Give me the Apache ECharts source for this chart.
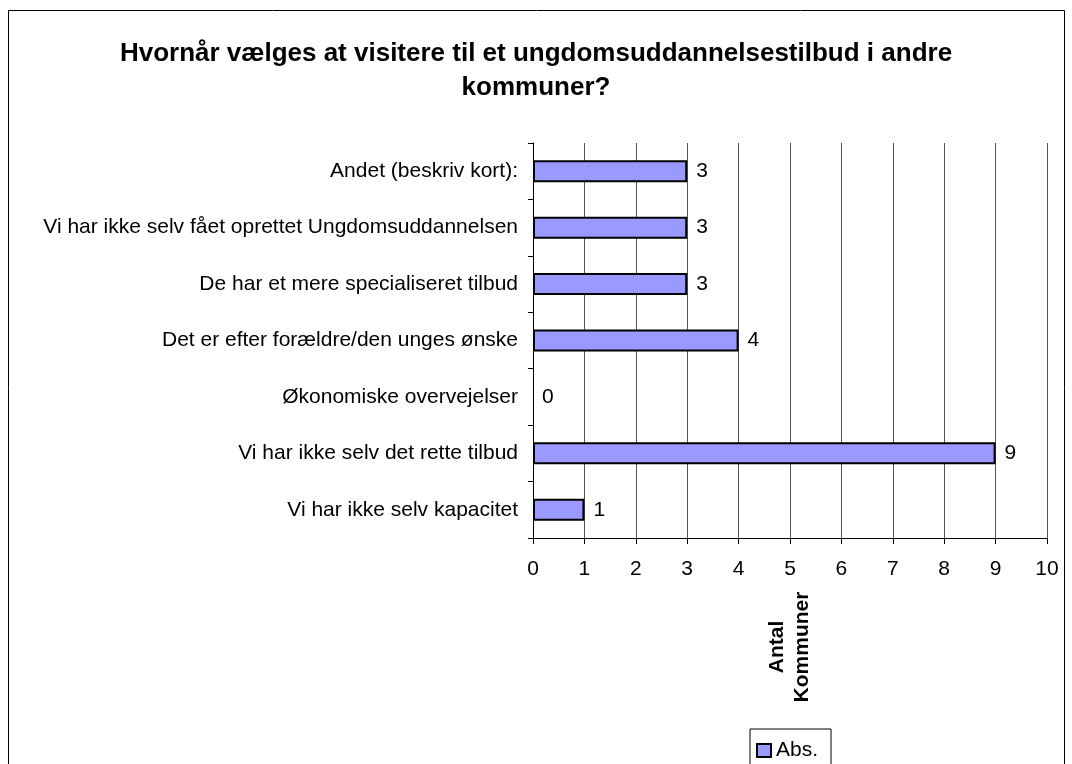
<!DOCTYPE html>
<html>
<head>
<meta charset="utf-8">
<script src="https://cdn.jsdelivr.net/npm/echarts@6/dist/echarts.min.js"></script>
<style>
  html, body { margin: 0; padding: 0; background: #fff; }
  #chart { width: 1072px; height: 764px; }
</style>
</head>
<body>
<div id="chart"></div>
<script>
// data
const categories = [
	'Andet (beskriv kort):',
	'Vi har ikke selv fået oprettet Ungdomsuddannelsen',
	'De har et mere specialiseret tilbud',
	'Det er efter forældre/den unges ønske',
	'Økonomiske overvejelser',
	'Vi har ikke selv det rette tilbud',
	'Vi har ikke selv kapacitet'
];
const absValues = [3, 3, 3, 4, 0, 9, 1];
const seriesName = 'Abs.';
const titleText = 'Hvornår vælges at visitere til et ungdomsuddannelsestilbud i andre\nkommuner?';
const axisName = 'Antal\nKommuner';

const font = 'Liberation Sans, Arial, sans-serif';
const chart = echarts.init(document.getElementById('chart'));

// en nul-bjælke skal ikke tegne kant
const barData = absValues.map(function (v) {
	return v === 0 ? { value: v, itemStyle: { borderWidth: 0 } } : v;
});

const option = {
	animation: false,
	textStyle: { fontFamily: font },
	graphic: [{
		type: 'rect',
		shape: { x: 8.5, y: 10.5, width: 1056, height: 800 },
		style: { fill: 'none', stroke: '#000', lineWidth: 1 },
		silent: true
	}],
	title: {
		text: titleText,
		left: 'center',
		top: 32,
		textStyle: { fontFamily: font, fontSize: 26, fontWeight: 'bold', color: '#000', lineHeight: 34 }
	},
	legend: {
		data: [seriesName],
		left: 750,
		top: 729,
		padding: [11, 13, 10, 6],
		borderColor: '#000',
		borderWidth: 1,
		itemWidth: 14,
		itemHeight: 13,
		itemGap: 4,
		icon: 'rect',
		textStyle: { fontFamily: font, fontSize: 21, color: '#000', padding: [0, 0, 0, 0] }
	},
	grid: { left: 533, right: 25, top: 143, bottom: 226, containLabel: false },
	xAxis: {
		type: 'value',
		min: 0,
		max: 10,
		interval: 1,
		name: axisName,
		nameLocation: 'middle',
		nameRotate: 90,
		nameGap: 109,
		nameTextStyle: { fontFamily: font, fontSize: 21, fontWeight: 'bold', color: '#000', lineHeight: 25, align: 'center', verticalAlign: 'middle' },
		axisLine: { show: true, lineStyle: { color: '#000', width: 1 } },
		axisTick: { show: true, length: 6, lineStyle: { color: '#000' } },
		axisLabel: { fontFamily: font, fontSize: 21, color: '#000', margin: 21 },
		splitLine: { show: true, lineStyle: { color: '#555', width: 1 } }
	},
	yAxis: {
		type: 'category',
		data: categories,
		inverse: true,
		axisLine: { show: true, lineStyle: { color: '#000', width: 1 } },
		axisTick: { show: true, length: 5, lineStyle: { color: '#000' } },
		axisLabel: { fontFamily: font, fontSize: 21, color: '#000', margin: 15 },
		splitLine: { show: false }
	},
	series: [{
		name: seriesName,
		type: 'bar',
		data: barData,
		barWidth: 22,
		itemStyle: { color: '#9999FF', borderColor: '#000', borderWidth: 2 },
		label: { show: true, position: 'right', distance: 9, fontFamily: font, fontSize: 21, color: '#000' }
	}]
};

chart.setOption(option);
window.onresize = chart.resize;
</script>
</body>
</html>
